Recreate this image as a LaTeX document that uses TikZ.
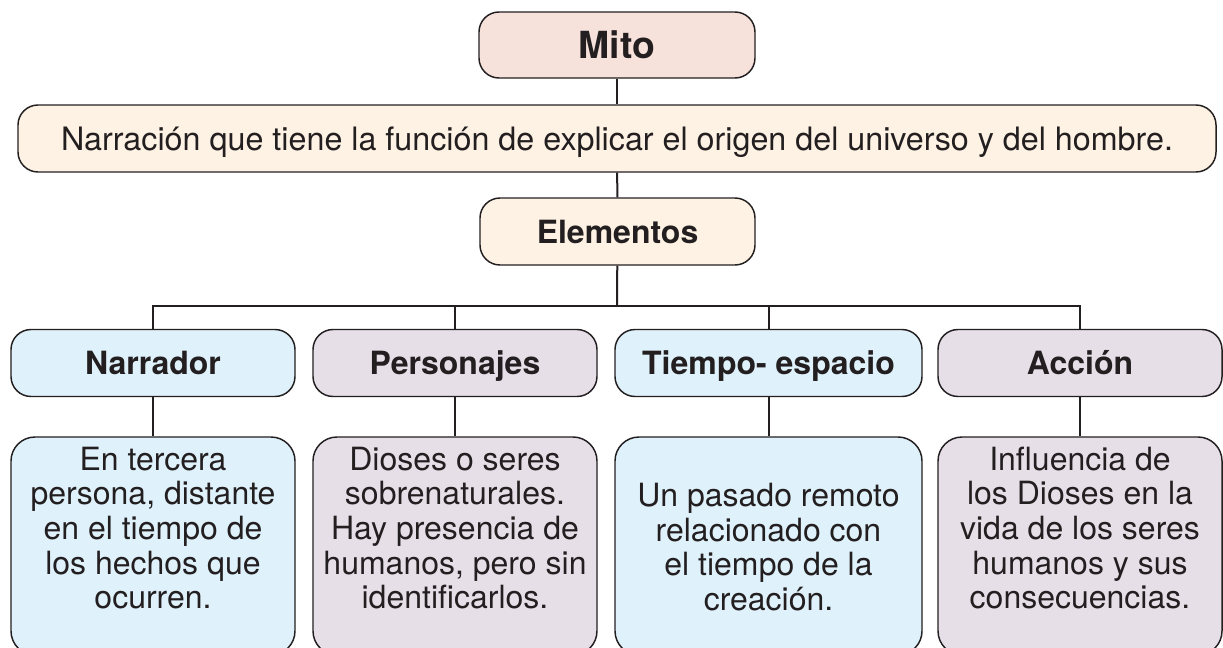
\documentclass[tikz,border=0pt]{standalone}
\usepackage{fontspec}
\setmainfont{TeX Gyre Heros}
\usepackage{tikz}
\definecolor{inkgray}{HTML}{231F20}
\definecolor{mitofill}{HTML}{F7E1DB}
\definecolor{creamfill}{HTML}{FDF2E3}
\definecolor{bluefill}{HTML}{DFF1FA}
\definecolor{lilacfill}{HTML}{E6DFE8}
\tikzset{
	box/.style = {draw = inkgray, line width = 1.1pt, rounded corners = 15pt, inner sep = 0pt, text height = 17.3pt, text depth = 0pt},
	headbox/.style = {box, minimum width = 213pt, minimum height = 50.25pt, font = \fontsize{24}{27}\selectfont\bfseries},
	lowbox/.style = {draw = inkgray, line width = 1.1pt, rounded corners = 18pt, minimum width = 213pt, minimum height = 163.5pt},
	lowtext/.style = {align = center, text = inkgray, font = \fontsize{24}{26}\selectfont},
	link/.style = {draw = inkgray, line width = 1.5pt}
}

\begin{document}
\begin{tikzpicture} [x = 0.75pt, y = -0.75pt, text = inkgray]
	\clip (0,0) rectangle (1223,647);
	
	\node [box, fill = mitofill, minimum width = 207pt, minimum height = 49.5pt, text height = 20.2pt, font = \fontsize{28}{30}\selectfont\bfseries] (mito) at (617,45) {Mito};
	\node [box, fill = creamfill, minimum width = 898.5pt, minimum height = 50.25pt, font = \fontsize{24.2}{27}\selectfont] (def) at (617,138.5) {Narración que tiene la función de explicar el origen del universo y del hombre.};
	\node [headbox, fill = creamfill, minimum width = 206.25pt] (elem) at (617.5,231.5) {Elementos};
	
	% cabeceras
	\node [headbox, fill = bluefill] (narrador) at (153,363) {Narrador};
	\node [headbox, fill = lilacfill] (personajes) at (455,363) {Personajes};
	\node [headbox, fill = bluefill, minimum width = 230.25pt] (tiempo) at (768.5,363) {Tiempo- espacio};
	\node [headbox, fill = lilacfill] (accion) at (1080,363) {Acción};
	
	% cajas inferiores
	\node [lowbox, fill = bluefill] (narradorbox) at (153,546) {};
	\node [lowbox, fill = lilacfill] (personajesbox) at (455,546) {};
	\node [lowbox, fill = bluefill, minimum width = 230.25pt] (tiempobox) at (768.5,546) {};
	\node [lowbox, fill = lilacfill] (accionbox) at (1080,546) {};
	
	\node [lowtext] (narradortxt) at (153,528) {En tercera\\persona, distante\\en el tiempo de\\los hechos que\\ocurren.};
	\node [lowtext] (personajestxt) at (455,528) {Dioses o seres\\sobrenaturales.\\Hay presencia de\\humanos, pero sin\\identificarlos.};
	\node [lowtext] (tiempotxt) at (768.5,547) {Un pasado remoto\\relacionado con\\el tiempo de la\\creación.};
	\node [lowtext] (acciontxt) at (1080,528) {Influencia de\\los Dioses en la\\vida de los seres\\humanos y sus\\consecuencias.};
	
	\coordinate (bar) at (617,306);
	\draw [link] (mito) -- (def);
	\draw [link] (def) -- (elem);
	\draw [link] (elem) -- (bar);
	\draw [link] (narrador.north) |- (bar) -| (accion.north);
	\draw [link] (personajes.north) -- (personajes.north |- bar);
	\draw [link] (tiempo.north) -- (tiempo.north |- bar);
	
	\draw [link] (narrador) -- (narradorbox);
	\draw [link] (personajes) -- (personajesbox);
	\draw [link] (tiempo) -- (tiempobox);
	\draw [link] (accion) -- (accionbox);
\end{tikzpicture}
\end{document}
